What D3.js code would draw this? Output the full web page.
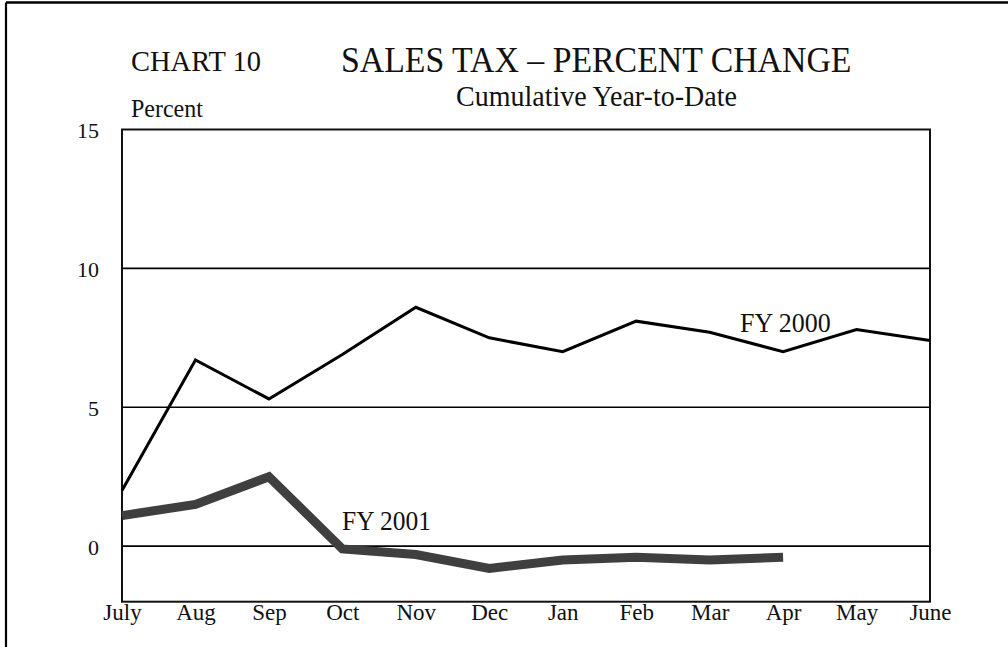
<!DOCTYPE html>
<html>
<head>
<meta charset="utf-8">
<script src="https://cdn.jsdelivr.net/npm/d3@7"></script>
<style>
  html, body { margin: 0; padding: 0; background: #fff; }
  svg { display: block; }
  text { font-family: "Liberation Serif", "Times New Roman", "DejaVu Serif", serif; fill: #111; }
</style>
</head>
<body>
<svg id="chart" width="1008" height="647"></svg>
<script>
// Months of the fiscal year (July through June)
const months = ["July", "Aug", "Sep", "Oct", "Nov", "Dec", "Jan", "Feb", "Mar", "Apr", "May", "June"];

// Cumulative year-to-date sales tax change, percent
const fy2000 = [2.0, 6.7, 5.3, 6.9, 8.6, 7.5, 7.0, 8.1, 7.7, 7.0, 7.8, 7.4];
const fy2001 = [1.1, 1.5, 2.5, -0.1, -0.3, -0.8, -0.5, -0.4, -0.5, -0.4];

// Y axis labels and horizontal rules
const yTicks = [0, 5, 10, 15];
const gridValues = [0, 5, 10];

const svg = d3.select("#chart");
const W = 1008, H = 647;
const plot = { left: 122, right: 930, top: 129.5, bottom: 601.7 };

const x = d3.scalePoint().domain(months).range([plot.left, plot.right]);
const y = d3.scaleLinear().domain([-2, 15]).range([plot.bottom, plot.top]);

// Page frame (left and top edges)
svg.append("line").attr("x1", 6).attr("x2", 6).attr("y1", 2.5).attr("y2", H)
  .attr("stroke", "#000").attr("stroke-width", 2.2);
svg.append("line").attr("x1", 6).attr("x2", W).attr("y1", 2.5).attr("y2", 2.5)
  .attr("stroke", "#000").attr("stroke-width", 2.4);

// Helper for slightly tall serif text
function label(txt, px, baseline, size, anchor, sy) {
  return svg.append("text")
    .attr("transform", `translate(${px},${baseline}) scale(1,${sy || 1})`)
    .attr("text-anchor", anchor || "start")
    .style("font-size", size + "px")
    .text(txt);
}

label("CHART 10", 131, 71, 28.5, "start", 1.07);
label("SALES TAX \u2013 PERCENT CHANGE", 341, 71.7, 33.8, "start", 1.09);
label("Cumulative Year-to-Date", 456, 106, 28, "start", 1.06);
label("Percent", 131, 117, 24, "start", 1.05);

// Horizontal rules
svg.append("g").selectAll("line").data(gridValues).join("line")
  .attr("x1", plot.left).attr("x2", plot.right)
  .attr("y1", d => y(d)).attr("y2", d => y(d))
  .attr("stroke", "#000").attr("stroke-width", 1.6);

// Plot frame
svg.append("rect")
  .attr("x", plot.left).attr("y", plot.top)
  .attr("width", plot.right - plot.left).attr("height", plot.bottom - plot.top)
  .attr("fill", "none").attr("stroke", "#111").attr("stroke-width", 2);

// Y axis labels
const yAxis = svg.append("g")
  .attr("transform", `translate(${plot.left},0)`)
  .call(d3.axisLeft(y).tickValues(yTicks).tickSize(0).tickPadding(23).tickFormat(d3.format("d")))
  .attr("font-family", null)
  .attr("font-size", null);
yAxis.select(".domain").remove();
yAxis.selectAll("text")
  .attr("dy", "0.38em")
  .style("font-size", "22px");

// X axis labels
const xAxis = svg.append("g")
  .attr("transform", `translate(0,${plot.bottom})`)
  .call(d3.axisBottom(x).tickSize(0).tickPadding(2))
  .attr("font-family", null)
  .attr("font-size", null);
xAxis.select(".domain").remove();
xAxis.selectAll("text")
  .attr("dy", "0.71em")
  .style("font-size", "23px");

// Series lines
const line = d3.line().x((d, i) => x(months[i])).y(d => y(d));

svg.append("path").datum(fy2000)
  .attr("d", line)
  .attr("fill", "none").attr("stroke", "#000")
  .attr("stroke-width", 3).attr("stroke-linejoin", "miter");

svg.append("path").datum(fy2001)
  .attr("d", line)
  .attr("fill", "none").attr("stroke", "#3f3f3f")
  .attr("stroke-width", 9).attr("stroke-linejoin", "miter").attr("stroke-linecap", "butt");

// Series labels
label("FY 2000", 740, 332, 26, "start", 1.05);
label("FY 2001", 342, 530, 25.5, "start", 1.05);
</script>
</body>
</html>
